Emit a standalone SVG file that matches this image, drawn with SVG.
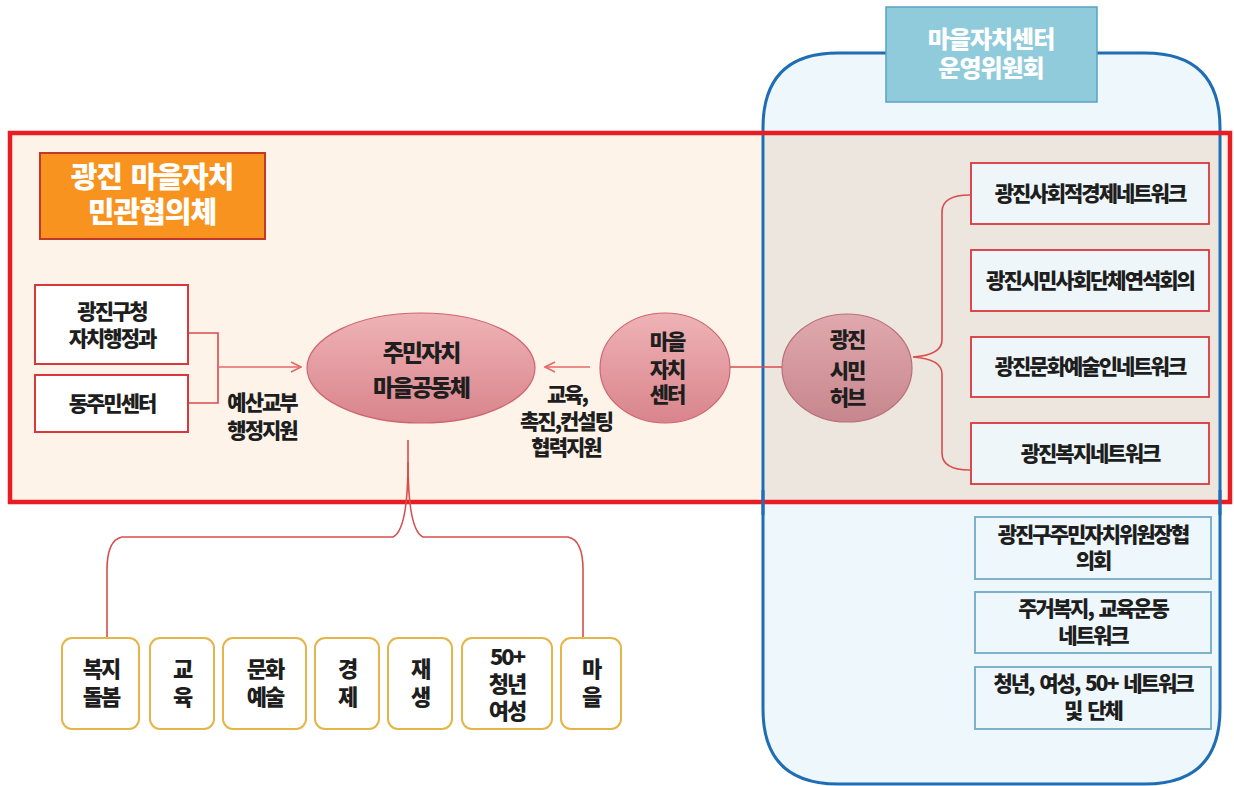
<svg xmlns="http://www.w3.org/2000/svg" width="1234" height="786" viewBox="0 0 1234 786">
<defs>
<style>
.t{font-family:"Noto Sans CJK KR","Noto Sans KR",sans-serif;font-weight:900;fill:#1e1e1e;text-anchor:middle;letter-spacing:-2px;word-spacing:3px}
.w{fill:#ffffff;letter-spacing:-1px}
.f29{font-size:29px}.f24{font-size:24px}.f23{font-size:23px}.f22{font-size:22px}.f21{font-size:21px}.f20{font-size:20px}
.rb{fill:#ffffff;stroke:#d8383c;stroke-width:2}
.nb{fill:#eef6f9;stroke:#d8383c;stroke-width:1.8}
.lb{fill:#eef7fb;stroke:#72aac4;stroke-width:1.8}
.yb{fill:#ffffff;stroke:#e5b54a;stroke-width:2}
.ln{fill:none;stroke:#d94c4c;stroke-width:1.6}
.ar{fill:none;stroke:#e46a6a;stroke-width:1.6}
</style>
<linearGradient id="g1" x1="0" y1="0" x2="0" y2="1"><stop offset="0" stop-color="#eeb3b6"/><stop offset="1" stop-color="#d9848c"/></linearGradient>
<linearGradient id="g2" x1="0" y1="0" x2="0" y2="1"><stop offset="0" stop-color="#e0a9ad"/><stop offset="1" stop-color="#c7868d"/></linearGradient>
<marker id="ah" viewBox="0 0 12 12" refX="11" refY="6" markerWidth="12" markerHeight="12" markerUnits="userSpaceOnUse" orient="auto"><path d="M1,1 L11,6 L1,11" fill="none" stroke="#e46a6a" stroke-width="1.6"/></marker>
</defs>

<g id="frames">
<rect x="10" y="133" width="1220" height="369" fill="#fdf3e9"/>
<path d="M763,128 Q763,53 838,53 H1145 Q1220,53 1220,128 V709 Q1220,784 1145,784 H838 Q763,784 763,709 Z" fill="#eef7fb"/>
<rect x="764.5" y="135" width="454" height="365" fill="#ede6df"/>
<path d="M763,128 Q763,53 838,53 H1145 Q1220,53 1220,128 V709 Q1220,784 1145,784 H838 Q763,784 763,709 Z" fill="none" stroke="#1f6db4" stroke-width="3"/>
<rect x="10" y="133" width="1220" height="369" fill="none" stroke="#e81c22" stroke-width="4.5"/>
<line x1="763" y1="490" x2="763" y2="515" stroke="#1f6db4" stroke-width="3"/>
<line x1="1220" y1="490" x2="1220" y2="515" stroke="#1f6db4" stroke-width="3"/>
</g>

<g id="header">
<rect x="886" y="7" width="211" height="95" fill="#90cbdc" stroke="#5aa3c4" stroke-width="1.5"/>
<text class="t w f24" x="991" y="48">마을자치센터</text>
<text class="t w f24" x="991" y="77">운영위원회</text>
</g>

<g id="title">
<rect x="40" y="153" width="225" height="86" fill="#f7931e" stroke="#c0392b" stroke-width="2"/>
<text class="t w f29" x="152" y="188">광진 마을자치</text>
<text class="t w f29" x="152" y="223">민관협의체</text>
</g>

<g id="connectors">
<path class="ln" d="M188,333 H218 V403 H188"/>
<path class="ar" d="M218,367 H301" marker-end="url(#ah)"/>
<path class="ar" d="M590,367 H545" marker-end="url(#ah)"/>
<path class="ln" d="M730,367 H782"/>
<path class="ln" d="M970,195 Q942,195 942,212 V340 Q942,355 913,357 Q942,359 942,374 V453 Q942,470 970,470"/>
<path class="ln" d="M408,440 V462 Q408,530 393,537 H122 Q107,540 107,570 V638"/>
<path class="ln" d="M408,462 Q408,530 423,537 H568 Q583,540 583,570 V638"/>
</g>

<g id="gu">
<rect class="rb" x="35" y="285" width="153" height="79"/>
<text class="t f21" x="112" y="319">광진구청</text>
<text class="t f21" x="112" y="346">자치행정과</text>
</g>
<g id="dong">
<rect class="rb" x="35" y="375" width="153" height="57"/>
<text class="t f21" x="112" y="411">동주민센터</text>
</g>
<g id="label-budget">
<text class="t f21" x="262" y="410">예산교부</text>
<text class="t f21" x="262" y="438">행정지원</text>
</g>

<g id="community">
<ellipse cx="421" cy="368" rx="114" ry="55" fill="url(#g1)" stroke="#cf6470" stroke-width="1.2"/>
<text class="t f23" x="421" y="361">주민자치</text>
<text class="t f23" x="421" y="396">마을공동체</text>
</g>

<g id="center">
<ellipse cx="665" cy="368" rx="65" ry="55" fill="url(#g1)" stroke="#cf6470" stroke-width="1.2"/>
<text class="t f21" x="667" y="349">마을</text>
<text class="t f21" x="667" y="377">자치</text>
<text class="t f21" x="667" y="402">센터</text>
</g>
<g id="label-edu">
<text class="t f21" x="567" y="402">교육,</text>
<text class="t f21" x="566" y="429">촉진,컨설팅</text>
<text class="t f21" x="566" y="455">협력지원</text>
</g>

<g id="hub">
<ellipse cx="847" cy="368" rx="65" ry="54" fill="url(#g2)" stroke="#b87078" stroke-width="1.2"/>
<text class="t f21" x="847" y="347">광진</text>
<text class="t f21" x="847" y="378">시민</text>
<text class="t f21" x="847" y="405">허브</text>
</g>

<g id="net1"><rect class="nb" x="971" y="163" width="238" height="61"/><text class="t f21" x="1090" y="201">광진사회적경제네트워크</text></g>
<g id="net2"><rect class="nb" x="971" y="250" width="238" height="61"/><text class="t f21" x="1090" y="288">광진시민사회단체연석회의</text></g>
<g id="net3"><rect class="nb" x="971" y="337" width="238" height="60"/><text class="t f21" x="1090" y="374">광진문화예술인네트워크</text></g>
<g id="net4"><rect class="nb" x="971" y="423" width="238" height="61"/><text class="t f21" x="1090" y="461">광진복지네트워크</text></g>

<g id="org1"><rect class="lb" x="975" y="517" width="236" height="62"/><text class="t f21" x="1093" y="542">광진구주민자치위원장협</text><text class="t f21" x="1093" y="568">의회</text></g>
<g id="org2"><rect class="lb" x="975" y="592" width="236" height="61"/><text class="t f21" x="1093" y="616">주거복지, 교육운동</text><text class="t f21" x="1093" y="643">네트워크</text></g>
<g id="org3"><rect class="lb" x="975" y="667" width="236" height="62"/><text class="t f21" x="1093" y="691">청년, 여성, 50+ 네트워크</text><text class="t f21" x="1093" y="718">및 단체</text></g>

<g id="b1"><rect class="yb" x="62" y="638" width="77" height="91" rx="10"/><text class="t f22" x="101" y="677">복지</text><text class="t f22" x="101" y="705">돌봄</text></g>
<g id="b2"><rect class="yb" x="150" y="638" width="64" height="91" rx="10"/><text class="t f22" x="182" y="677">교</text><text class="t f22" x="182" y="705">육</text></g>
<g id="b3"><rect class="yb" x="223" y="638" width="83" height="91" rx="10"/><text class="t f22" x="265" y="677">문화</text><text class="t f22" x="265" y="705">예술</text></g>
<g id="b4"><rect class="yb" x="315" y="638" width="64" height="91" rx="10"/><text class="t f22" x="347" y="677">경</text><text class="t f22" x="347" y="705">제</text></g>
<g id="b5"><rect class="yb" x="388" y="638" width="64" height="91" rx="10"/><text class="t f22" x="420" y="677">재</text><text class="t f22" x="420" y="705">생</text></g>
<g id="b6"><rect class="yb" x="462" y="638" width="90" height="91" rx="10"/><text class="t f22" x="507" y="665">50+</text><text class="t f22" x="507" y="692">청년</text><text class="t f22" x="507" y="719">여성</text></g>
<g id="b7"><rect class="yb" x="561" y="638" width="60" height="91" rx="10"/><text class="t f22" x="591" y="677">마</text><text class="t f22" x="591" y="705">을</text></g>
</svg>
